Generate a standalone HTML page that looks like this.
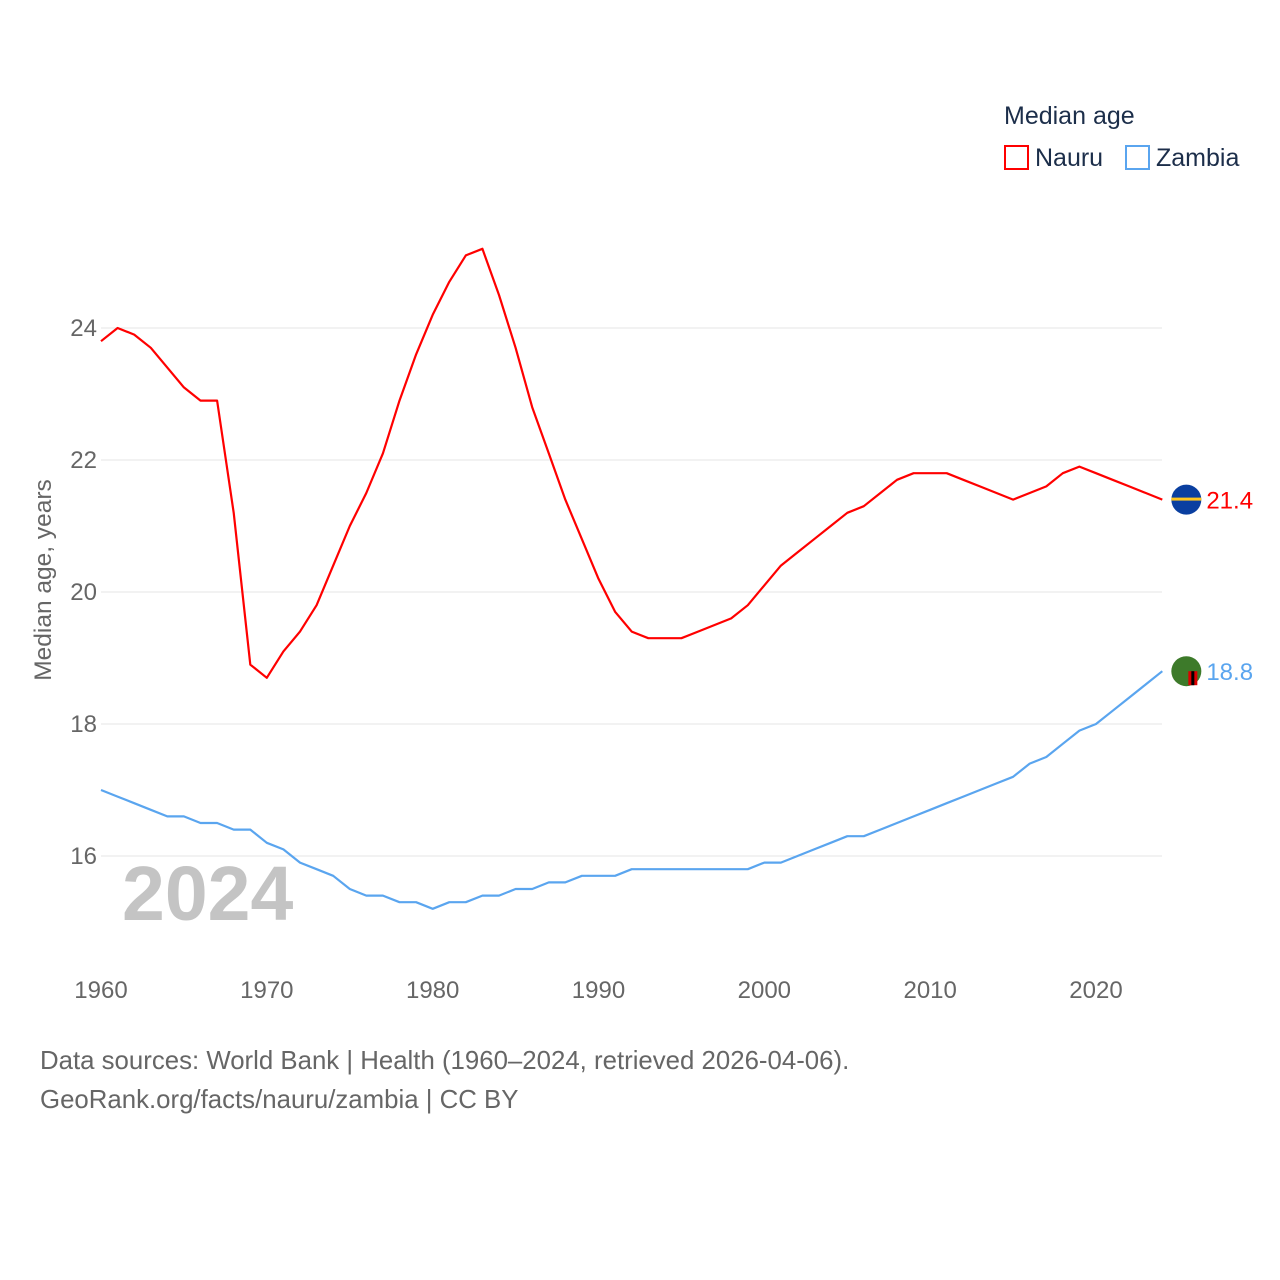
<!DOCTYPE html>
<html><head><meta charset="utf-8"><style>
html,body{margin:0;padding:0;background:#fff;}
svg{display:block;font-family:"Liberation Sans",sans-serif;}
</style></head><body>
<svg id="chart" width="1280" height="1280" viewBox="0 0 1280 1280">
<g id="grid"></g>
<g id="yticks"></g>
<g id="xticks"></g>
<text x="51" y="580" transform="rotate(-90 51 580)" text-anchor="middle" font-size="24.5" fill="#666">Median age, years</text>
<text x="122" y="920" font-size="77" font-weight="bold" fill="#c4c4c4">2024</text>
<g id="series"></g>
<g>
<text x="1004" y="124" font-size="25" fill="#1c2e4a">Median age</text>
<rect x="1005" y="146" width="23" height="23" fill="none" stroke="#ff0000" stroke-width="2"/>
<text x="1035" y="166" font-size="25" fill="#1c2e4a">Nauru</text>
<rect x="1126" y="146" width="23" height="23" fill="none" stroke="#5aa5ef" stroke-width="2"/>
<text x="1156" y="166" font-size="25" fill="#1c2e4a">Zambia</text>
</g>
<text x="40" y="1069" font-size="25.8" fill="#666">Data sources: World Bank | Health (1960–2024, retrieved 2026-04-06).</text>
<text x="40" y="1108" font-size="25.8" fill="#666">GeoRank.org/facts/nauru/zambia | CC BY</text>
</svg>
<script>
const years = [];
for (let y = 1960; y <= 2024; y++) years.push(y);
const nauru = [23.8,24.0,23.9,23.7,23.4,23.1,22.9,22.9,21.2,18.9,18.7,19.1,19.4,19.8,20.4,21.0,21.5,22.1,22.9,23.6,24.2,24.7,25.1,25.2,24.5,23.7,22.8,22.1,21.4,20.8,20.2,19.7,19.4,19.3,19.3,19.3,19.4,19.5,19.6,19.8,20.1,20.4,20.6,20.8,21.0,21.2,21.3,21.5,21.7,21.8,21.8,21.8,21.7,21.6,21.5,21.4,21.5,21.6,21.8,21.9,21.8,21.7,21.6,21.5,21.4];
const zambia = [17.0,16.9,16.8,16.7,16.6,16.6,16.5,16.5,16.4,16.4,16.2,16.1,15.9,15.8,15.7,15.5,15.4,15.4,15.3,15.3,15.2,15.3,15.3,15.4,15.4,15.5,15.5,15.6,15.6,15.7,15.7,15.7,15.8,15.8,15.8,15.8,15.8,15.8,15.8,15.8,15.9,15.9,16.0,16.1,16.2,16.3,16.3,16.4,16.5,16.6,16.7,16.8,16.9,17.0,17.1,17.2,17.4,17.5,17.7,17.9,18.0,18.2,18.4,18.6,18.8];
const yTicks = [16,18,20,22,24];
const xTicks = [1960,1970,1980,1990,2000,2010,2020];

const NS = "http://www.w3.org/2000/svg";
const xS = v => 101 + (v - 1960) * (995 / 60);
const yS = v => 328 + (24 - v) * 66;
function mk(tag, attrs, parent){const e=document.createElementNS(NS,tag);for(const k in attrs)e.setAttribute(k,attrs[k]);parent.appendChild(e);return e;}
const grid=document.getElementById('grid'), yt=document.getElementById('yticks'), xt=document.getElementById('xticks'), ser=document.getElementById('series');
yTicks.forEach(t=>{
  const l=mk('line',{x1:101,x2:1162,y1:yS(t),y2:yS(t),stroke:'#e6e6e6','stroke-width':1},grid);
  
  
  const tx=mk('text',{x:97,y:yS(t)+8,'text-anchor':'end','font-size':24,fill:'#666'},yt);
  tx.textContent=t;
  
  
});
xTicks.forEach(t=>{
  const tx=mk('text',{x:xS(t),y:998,'text-anchor':'middle','font-size':24,fill:'#666'},xt);
  tx.textContent=t;
  
  
});
function drawLine(vals,color,name){
  const d=vals.map((v,i)=>(i?'L':'M')+xS(years[i]).toFixed(1)+' '+yS(v).toFixed(1)).join(' ');
  const p=mk('path',{d:d,fill:'none',stroke:color,'stroke-width':2.2,'stroke-linejoin':'round'},ser);
  
  
  const last=vals[vals.length-1], ly=yS(last), lx=xS(years[years.length-1]);
  const c=mk('circle',{cx:lx+24,cy:ly,r:15,fill:name==='nauru'?'#0a3fa0':'#3d7a2a'},ser);
  
  
  if(name==='nauru'){mk('rect',{x:lx+9,y:ly-2,width:30,height:3,fill:'#ffc61e'},ser);}
  else{mk('rect',{x:lx+26,y:ly,width:9,height:14,fill:'#d00'},ser);mk('rect',{x:lx+29,y:ly,width:3,height:14,fill:'#000'},ser);}
  const t=mk('text',{x:lx+44,y:ly+9,'font-size':24,fill:color},ser);
  t.textContent=last.toFixed(1);
  
  
}
drawLine(zambia,'#5aa5ef','zambia');
drawLine(nauru,'#ff0000','nauru');
</script>
</body></html>
